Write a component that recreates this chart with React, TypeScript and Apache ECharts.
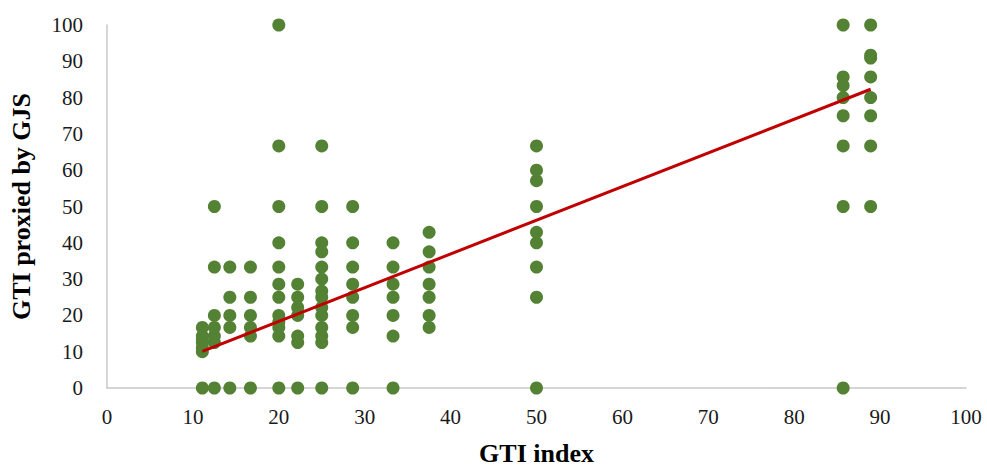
import React, { useEffect, useRef } from "react";
import * as echarts from "echarts";

// GTI index values (x) at which observations were recorded
const gtiIndex = [11.1, 12.5, 14.3, 16.7, 20, 22.2, 25, 28.6, 33.3, 37.5, 50, 85.7, 88.9];

// GTI proxied by GJS (y) observed at each GTI index value above
const gjsValues: number[][] = [
  [0, 10, 11.1, 12.5, 13.3, 14.3, 16.7],
  [0, 12.5, 14.3, 16.7, 20, 33.3, 50],
  [0, 16.7, 20, 25, 33.3],
  [0, 14.3, 16.7, 20, 25, 33.3],
  [0, 14.3, 16.7, 18.2, 20, 25, 28.6, 33.3, 40, 50, 66.7, 100],
  [0, 12.5, 14.3, 20, 22.2, 25, 28.6],
  [0, 12.5, 14.3, 16.7, 20, 22.2, 25, 26.7, 30, 33.3, 37.5, 40, 50, 66.7],
  [0, 16.7, 20, 25, 28.6, 33.3, 40, 50],
  [0, 14.3, 20, 25, 28.6, 33.3, 40],
  [16.7, 20, 25, 28.6, 33.3, 37.5, 42.9],
  [0, 25, 33.3, 40, 42.9, 50, 57.1, 60, 66.7],
  [0, 50, 66.7, 75, 80, 83.3, 85.7, 100],
  [50, 66.7, 75, 80, 85.7, 90.9, 91.7, 100],
];

// Linear trend line end points
const trendX = [11.1, 88.9];
const trendY = [10.1, 82.3];

const axisTicks = { min: 0, max: 100, interval: 10 };

const FONT = "'Liberation Serif', 'DejaVu Serif', serif";

export default function App() {
  const ref = useRef<HTMLDivElement>(null);

  useEffect(() => {
    document.body.style.margin = "0";
    if (!ref.current) return;
    const chart = echarts.init(ref.current, undefined, { renderer: "svg" });

    const points: number[][] = [];
    gtiIndex.forEach((x, i) => {
      gjsValues[i].forEach((y) => points.push([x, y]));
    });
    const trend = trendX.map((x, i) => [x, trendY[i]]);

    const axisLine = { show: true, lineStyle: { color: "#C8C8C8", width: 1.5 } };

    chart.setOption({
      animation: false,
      backgroundColor: "#ffffff",
      grid: { left: 107, right: 21, top: 25, bottom: 79, containLabel: false },
      xAxis: {
        type: "value",
        ...axisTicks,
        name: "GTI index",
        nameLocation: "middle",
        nameGap: 52,
        nameTextStyle: { fontFamily: FONT, fontSize: 26, fontWeight: "bold", color: "#000" },
        axisLine,
        axisTick: { show: false },
        splitLine: { show: false },
        axisLabel: { fontFamily: FONT, fontSize: 21, color: "#1a1a1a", margin: 18 },
      },
      yAxis: {
        type: "value",
        ...axisTicks,
        name: "GTI proxied by GJS",
        nameLocation: "middle",
        nameGap: 73,
        nameTextStyle: { fontFamily: FONT, fontSize: 26, fontWeight: "bold", color: "#000" },
        axisLine,
        axisTick: { show: false },
        splitLine: { show: false },
        axisLabel: { fontFamily: FONT, fontSize: 21, color: "#1a1a1a", margin: 24 },
      },
      series: [
        {
          type: "scatter",
          data: points,
          symbol: "circle",
          symbolSize: 13,
          itemStyle: { color: "#548235", opacity: 1 },
          z: 2,
        },
        {
          type: "line",
          data: trend,
          symbol: "none",
          lineStyle: { color: "#C00000", width: 3 },
          z: 3,
        },
      ],
    });

    return () => chart.dispose();
  }, []);

  return <div ref={ref} style={{ width: 987, height: 471 }} />;
}
